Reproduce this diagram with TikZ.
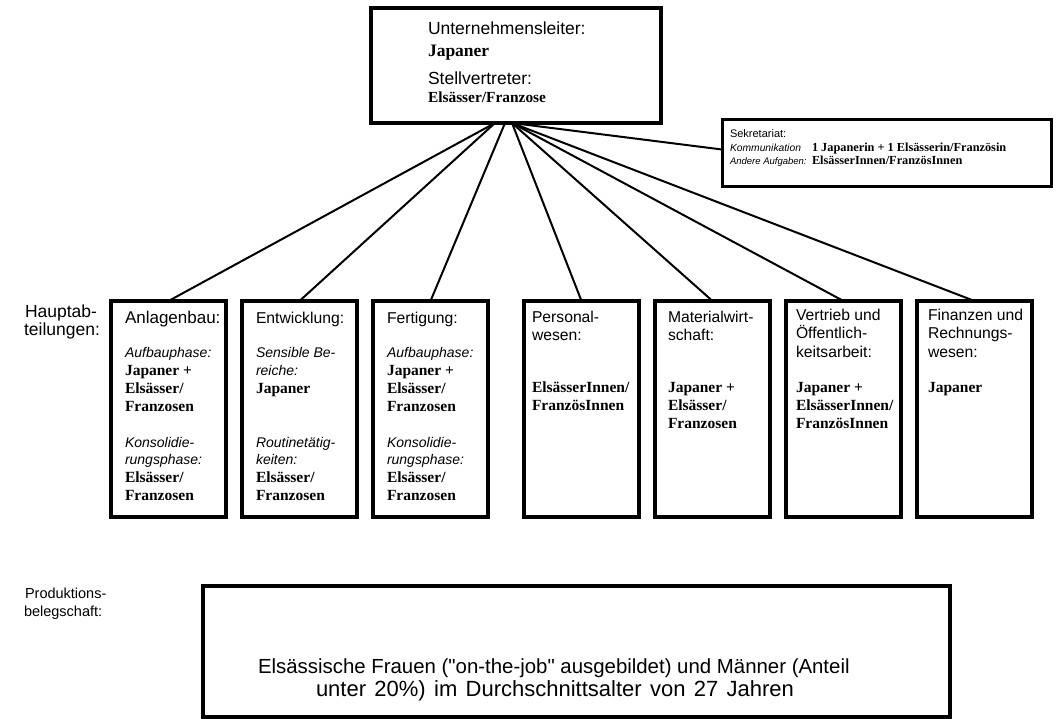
\documentclass[tikz,border=0pt]{standalone}
\usepackage{fontspec}
\setmainfont{Liberation Sans}
\newfontfamily\tms{Liberation Serif}
\newfontfamily\plainsans{Liberation Sans}[Ligatures=TeXOff]
\usetikzlibrary{calc}
\begin{document}
\begin{tikzpicture}[x=1pt,y=-1pt,
  dept/.style={draw=black,line width=4pt,fill=white,minimum width=115pt,minimum height=216pt,anchor=north west,inner sep=0pt,outer sep=0pt},
  frame/.style={draw=black,line width=3.5pt,fill=white,anchor=north west,inner sep=0pt,outer sep=0pt},
  lbase/.style={inner sep=0pt,outer sep=0pt,anchor=base west},
  lh/.style={lbase,font=\fontsize{15.7}{18}\selectfont},
  lbig/.style={lbase,font=\fontsize{17.5}{18}\selectfont},
  li/.style={lbase,font=\fontsize{14}{18}\selectfont\itshape},
  lb/.style={lbase,font=\tms\bfseries\fontsize{15.5}{18}\selectfont},
  ls/.style={lbase,font=\fontsize{11}{13}\selectfont},
  lsi/.style={lbase,font=\fontsize{10.3}{13}\selectfont\itshape},
  lsb/.style={lbase,font=\tms\bfseries\fontsize{12.3}{13}\selectfont},
  lbot/.style={lbase,font=\plainsans\fontsize{20.4}{23}\selectfont},
  conn/.style={line width=2pt,black}]
\useasboundingbox (0,0) rectangle (1064,719);
% top box
\node[frame,minimum width=290pt,minimum height=115pt] (top) at (371,8) {};
\node[lbig] (topa) at (428,35) {Unternehmensleiter:};
\node[lbase,font=\tms\bfseries\fontsize{17.5}{18}\selectfont] (topb) at (428,57) {Japaner};
\node[lbig] (topc) at (428,85) {Stellvertreter:};
\node[lbase,font=\tms\bfseries\fontsize{15.4}{18}\selectfont] (topd) at (428,103) {Elsässer/Franzose};
% secretariat
\node[frame,line width=3pt,minimum width=329pt,minimum height=67pt] (sec) at (722,120) {};
\node[ls] (seca) at (730,138) {Sekretariat:};
\node[lsi] (secb) at (730,152) {Kommunikation};
\node[lsb] (secc) at (812,152) {1 Japanerin + 1 Elsässerin/Französin};
\node[lsi,font=\fontsize{9.5}{13}\selectfont\itshape] (secd) at (730,165) {Andere Aufgaben:};
\node[lsb] (sece) at (812,165) {ElsässerInnen/FranzösInnen};
% departments
\node[dept] (d1) at (111,301) {};
\node[dept] (d2) at (242,301) {};
\node[dept] (d3) at (373,301) {};
\node[dept] (d4) at (524,301) {};
\node[dept] (d5) at (655,301) {};
\node[dept] (d6) at (786,301) {};
\node[dept] (d7) at (917,301) {};
% Anlagenbau
\node[lbase,font=\fontsize{17}{18}\selectfont] (t1a) at (125,323) {Anlagenbau:};
\node[li] (t1b) at (125,357) {Aufbauphase:};
\node[lb] (t1c) at (125,375) {Japaner +};
\node[lb] (t1d) at (125,393) {Elsässer/};
\node[lb] (t1e) at (125,411) {Franzosen};
\node[li] (t1f) at (125,447) {Konsolidie-};
\node[li] (t1g) at (125,464) {rungsphase:};
\node[lb] (t1h) at (125,482) {Elsässer/};
\node[lb] (t1i) at (125,500) {Franzosen};
% Entwicklung
\node[lh] (t2a) at (256,323) {Entwicklung:};
\node[li] (t2b) at (256,357) {Sensible Be-};
\node[li] (t2c) at (256,375) {reiche:};
\node[lb] (t2d) at (256,393) {Japaner};
\node[li] (t2f) at (256,447) {Routinetätig-};
\node[li] (t2g) at (256,464) {keiten:};
\node[lb] (t2h) at (256,482) {Elsässer/};
\node[lb] (t2i) at (256,500) {Franzosen};
% Fertigung
\node[lh] (t3a) at (387,323) {Fertigung:};
\node[li] (t3b) at (387,357) {Aufbauphase:};
\node[lb] (t3c) at (387,375) {Japaner +};
\node[lb] (t3d) at (387,393) {Elsässer/};
\node[lb] (t3e) at (387,411) {Franzosen};
\node[li] (t3f) at (387,447) {Konsolidie-};
\node[li] (t3g) at (387,464) {rungsphase:};
\node[lb] (t3h) at (387,482) {Elsässer/};
\node[lb] (t3i) at (387,500) {Franzosen};
% Personalwesen
\node[lh] (t4a) at (532,322) {Personal-};
\node[lh] (t4b) at (532,340) {wesen:};
\node[lb] (t4c) at (532,392) {ElsässerInnen/};
\node[lb] (t4d) at (532,410) {FranzösInnen};
% Materialwirtschaft
\node[lh] (t5a) at (668,322) {Materialwirt-};
\node[lh] (t5b) at (668,340) {schaft:};
\node[lb] (t5c) at (668,392) {Japaner +};
\node[lb] (t5d) at (668,410) {Elsässer/};
\node[lb] (t5e) at (668,428) {Franzosen};
% Vertrieb
\node[lh] (t6a) at (796,320) {Vertrieb und};
\node[lh] (t6b) at (796,338) {Öffentlich-};
\node[lh] (t6c) at (796,357) {keitsarbeit:};
\node[lb] (t6d) at (796,392) {Japaner +};
\node[lb] (t6e) at (796,410) {ElsässerInnen/};
\node[lb] (t6f) at (796,428) {FranzösInnen};
% Finanzen
\node[lh] (t7a) at (928,320) {Finanzen und};
\node[lh] (t7b) at (928,338) {Rechnungs-};
\node[lh] (t7c) at (928,357) {wesen:};
\node[lb] (t7d) at (928,392) {Japaner};
% side labels
\node[lbig,anchor=base east] (lab1a) at (97,317) {Hauptab-};
\node[lbig,anchor=base east] (lab1b) at (100,335) {teilungen:};
\node[lbase,font=\fontsize{14.5}{17}\selectfont] (lab2a) at (25,598) {Produktions-};
\node[lbase,font=\fontsize{14.5}{17}\selectfont] (lab2b) at (24,616) {belegschaft:};
% bottom box
\node[frame,line width=3.5pt,minimum width=747pt,minimum height=131pt] (prod) at (203,586) {};
\node[lbot] (proda) at (258,673) {Elsässische Frauen ("on-the-job" ausgebildet) und Männer (Anteil};
\node[lbot,font=\plainsans\fontsize{22}{23}\selectfont] (prodb) at (316,696) {\makebox[478pt][s]{unter 20\%) im Durchschnittsalter von 27 Jahren}};
% connectors
\coordinate (o1) at (495,123);
\coordinate (o2) at (505,123);
\coordinate (o3) at (512,123);
\coordinate (secin) at ($(sec.west)+(0,-4)$);
\draw[conn] (o1) -- (d1.north);
\draw[conn] (o1) -- (d2.north);
\draw[conn] (o2) -- (d3.north);
\draw[conn] (o3) -- (d4.north);
\draw[conn] (o3) -- (d5.north);
\draw[conn] (o3) -- (d6.north);
\draw[conn] (o3) -- (d7.north);
\draw[conn] (o3) -- (secin);
\end{tikzpicture}
\end{document}
